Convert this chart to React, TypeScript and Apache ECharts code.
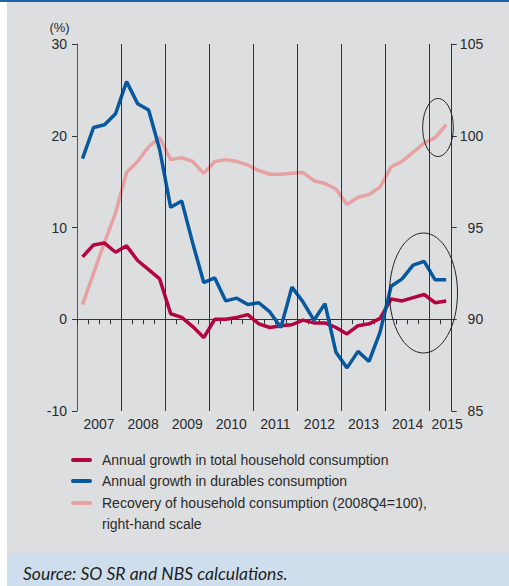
import React, { useEffect, useRef } from "react";
import * as echarts from "echarts";

// ---- data (quarterly, 2007Q1 .. 2015Q2) ----
const yearLabels = ["2007", "2008", "2009", "2010", "2011", "2012", "2013", "2014", "2015"];
const quartersPerYear = [4, 4, 4, 4, 4, 4, 4, 4, 2];

const totalGrowth = [
  6.8, 8.1, 8.3, 7.3, 8.0, 6.4, 5.4, 4.4,
  0.6, 0.2, -0.8, -2.0, 0.0, 0.0, 0.2, 0.5,
  -0.5, -0.9, -0.7, -0.6, -0.1, -0.4, -0.4, -0.9,
  -1.6, -0.7, -0.5, 0.1, 2.2, 2.0, 2.35, 2.7,
  1.8, 2.0,
];
const durablesGrowth = [
  17.5, 20.9, 21.2, 22.4, 25.9, 23.5, 22.8, 18.5,
  12.2, 12.9, 8.3, 4.0, 4.5, 2.0, 2.3, 1.6,
  1.8, 0.8, -0.9, 3.5, 1.9, -0.1, 1.7, -3.6,
  -5.3, -3.5, -4.6, -1.4, 3.6, 4.4, 5.9, 6.3,
  4.3, 4.3,
];
const recoveryIndex = [
  90.8, 92.5, 94.2, 95.8, 98.0, 98.6, 99.4, 99.9,
  98.7, 98.8, 98.6, 97.95, 98.6, 98.7, 98.6, 98.4,
  98.1, 97.9, 97.9, 97.95, 98.0, 97.55, 97.4, 97.1,
  96.25, 96.65, 96.8, 97.2, 98.3, 98.6, 99.1, 99.6,
  99.9, 100.6,
];

const leftAxis = { min: -10, max: 30, interval: 10 };
const rightAxis = { min: 85, max: 105, interval: 5 };

const seriesNames = [
  "Annual growth in total household consumption",
  "Annual growth in durables consumption",
  "Recovery of household consumption (2008Q4=100),\nright-hand scale",
];
const seriesColors = ["#b3053f", "#07589f", "#e6a1a3"];

const sourceText = "Source: SO SR and NBS calculations.";

// ---- derived ----
const totalQuarters = quartersPerYear.reduce((a, b) => a + b, 0);
const yearStarts: number[] = [];
quartersPerYear.reduce((acc, n) => {
  yearStarts.push(acc);
  return acc + n;
}, 0);
const yearBoundaries = yearStarts.filter((s) => s > 0);
const labelCenters = yearStarts.map((s, i) => s + quartersPerYear[i] / 2);

const toPoints = (arr: number[]) => arr.map((v, i) => [i + 0.5, v]);

const FONT = "'Liberation Sans', Arial, sans-serif";

export default function App() {
  const ref = useRef<HTMLDivElement>(null);

  useEffect(() => {
    if (!ref.current) return;
    const chart = echarts.init(ref.current, undefined, { renderer: "svg" });

    const legendGraphics: any[] = [];
    const rowY = [460, 481, 503];
    seriesNames.forEach((name, i) => {
      legendGraphics.push({
        type: "line",
        shape: { x1: 73, y1: rowY[i], x2: 90, y2: rowY[i] },
        style: { stroke: seriesColors[i], lineWidth: 4, lineCap: "round" },
      });
      legendGraphics.push({
        type: "text",
        x: 102,
        y: rowY[i] - 10.5,
        style: {
          text: name,
          fill: "#2a2a2a",
          font: `14px ${FONT}`,
          lineHeight: 21,
          verticalAlign: "top",
          align: "left",
        },
      });
    });

    chart.setOption({
      animation: false,
      backgroundColor: "transparent",
      textStyle: { fontFamily: FONT },
      grid: { left: 77, right: 57.3, top: 44, bottom: 175, containLabel: false },
      xAxis: [
        {
          type: "value",
          min: 0,
          max: totalQuarters,
          interval: 1,
          axisLine: { show: true, onZero: true, onZeroAxisIndex: 0, lineStyle: { color: "#333", width: 1 } },
          axisTick: { show: true, length: 5, inside: false, lineStyle: { color: "#333", width: 1 } },
          axisLabel: { show: false },
          splitLine: { show: false },
        },
        {
          type: "value",
          min: 0,
          max: totalQuarters,
          interval: 1,
          position: "bottom",
          axisLine: { show: false, onZero: false },
          axisTick: { show: false },
          splitLine: { show: false },
          axisLabel: {
            show: true,
            margin: 6,
            color: "#2a2a2a",
            fontSize: 14,
            fontFamily: FONT,
            showMinLabel: true,
            showMaxLabel: true,
            formatter: (v: number) => {
              const idx = labelCenters.indexOf(v);
              if (idx < 0) return "";
              return idx === yearLabels.length - 1 ? `{last|${yearLabels[idx]}}` : yearLabels[idx];
            },
            rich: {
              last: { padding: [0, 0, 0, 13], fontSize: 14, color: "#2a2a2a", fontFamily: FONT },
            },
          },
        },
      ],
      yAxis: [
        {
          type: "value",
          position: "left",
          min: leftAxis.min,
          max: leftAxis.max,
          interval: leftAxis.interval,
          axisLine: { show: true, onZero: false, lineStyle: { color: "#555", width: 1 } },
          axisTick: { show: true, length: 5, inside: false, lineStyle: { color: "#333" } },
          axisLabel: { margin: 10, color: "#2a2a2a", fontSize: 14, fontFamily: FONT },
          splitLine: { show: false },
        },
        {
          type: "value",
          position: "right",
          min: rightAxis.min,
          max: rightAxis.max,
          interval: rightAxis.interval,
          axisLine: { show: true, onZero: false, lineStyle: { color: "#333", width: 1 } },
          axisTick: { show: true, length: 5, inside: false, lineStyle: { color: "#333" } },
          axisLabel: { margin: 31.5, align: "right", color: "#2a2a2a", fontSize: 14, fontFamily: FONT },
          splitLine: { show: false },
        },
      ],
      series: [
        {
          name: seriesNames[2],
          type: "line",
          xAxisIndex: 0,
          yAxisIndex: 1,
          data: toPoints(recoveryIndex),
          symbol: "none",
          z: 2,
          lineStyle: { color: seriesColors[2], width: 3.5 },
          itemStyle: { color: seriesColors[2] },
          markLine: {
            silent: true,
            symbol: ["none", "none"],
            label: { show: false },
            lineStyle: { color: "#333", width: 1, type: "solid" },
            data: yearBoundaries.map((b) => ({ xAxis: b })),
          },
        },
        {
          name: seriesNames[0],
          type: "line",
          xAxisIndex: 0,
          yAxisIndex: 0,
          data: toPoints(totalGrowth),
          symbol: "none",
          z: 3,
          lineStyle: { color: seriesColors[0], width: 3.5 },
          itemStyle: { color: seriesColors[0] },
        },
        {
          name: seriesNames[1],
          type: "line",
          xAxisIndex: 0,
          yAxisIndex: 0,
          data: toPoints(durablesGrowth),
          symbol: "none",
          z: 4,
          lineStyle: { color: seriesColors[1], width: 3.5 },
          itemStyle: { color: seriesColors[1] },
        },
      ],
      graphic: [
        {
          type: "text",
          x: 59.5,
          y: 27,
          style: { text: "(%)", fill: "#2a2a2a", font: `13px ${FONT}`, align: "center", verticalAlign: "middle" },
        },
        {
          type: "ellipse",
          shape: { cx: 438, cy: 127.5, rx: 15.3, ry: 29 },
          style: { fill: "none", stroke: "#222", lineWidth: 1 },
          z: 10,
        },
        {
          type: "ellipse",
          shape: { cx: 423.5, cy: 293, rx: 34, ry: 60 },
          style: { fill: "none", stroke: "#222", lineWidth: 1 },
          z: 10,
        },
        ...legendGraphics,
        {
          type: "text",
          x: 23,
          y: 573,
          style: {
            text: sourceText,
            fill: "#1e1e1e",
            font: `italic 17.5px Lato, 'Liberation Sans', sans-serif`,
            align: "left",
            verticalAlign: "middle",
          },
        },
      ],
    });

    return () => chart.dispose();
  }, []);

  return (
    <div style={{ position: "absolute", left: 0, top: 0, width: 509, height: 586, background: "#ffffff", overflow: "hidden" }}>
      <div style={{ position: "absolute", left: 0, top: 0, width: 509, height: 2, background: "#1763ad" }} />
      <div style={{ position: "absolute", left: 7, top: 2, width: 502, height: 551, background: "#dddee0" }} />
      <div style={{ position: "absolute", left: 7, top: 553, width: 502, height: 33, background: "#cfdeed" }} />
      <div ref={ref} style={{ position: "absolute", left: 0, top: 0, width: 509, height: 586 }} />
    </div>
  );
}
